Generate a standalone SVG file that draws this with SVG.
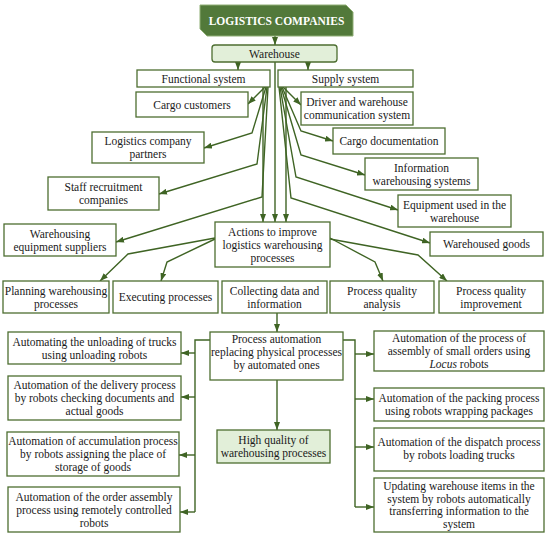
<svg xmlns="http://www.w3.org/2000/svg" width="550" height="537" viewBox="0 0 550 537">
<defs>
<marker id="ah" markerWidth="8" markerHeight="6" refX="8" refY="3" orient="auto" markerUnits="userSpaceOnUse">
<path d="M0,0 L8,3 L0,6 z" fill="#3f6424"/>
</marker>
<style>
.b{fill:#ffffff;stroke:#4d6e30;stroke-width:1.3}
.g{fill:#e2efd9;stroke:#4d6e30;stroke-width:1.3}
.t{font-family:"Liberation Serif","Times New Roman",serif;font-size:11.5px;fill:#1a1a1a;text-anchor:middle}
.w{font-family:"Liberation Serif","Times New Roman",serif;font-size:11.5px;font-weight:bold;fill:#ffffff;text-anchor:middle}
.c{fill:none;stroke:#3f6424;stroke-width:1.4;marker-end:url(#ah)}
.n{fill:none;stroke:#3f6424;stroke-width:1.4}
</style>
</defs>
<rect width="550" height="537" fill="#ffffff"/>
<g id="connectors">
<path class="c" d="M275,36 V45"/>
<path class="c" d="M238,62 V70"/>
<path class="c" d="M308,62 V70"/>
<path class="c" d="M275,62 V222"/>
<path class="c" d="M263,87 V222"/>
<path class="c" d="M286,87 V222"/>
<path class="c" d="M265,87 L248,104"/>
<path class="c" d="M266,87 L252,133 L204,148"/>
<path class="c" d="M267,87 L257,164 L159,194"/>
<path class="c" d="M268,87 L262,197 L116,242"/>
<path class="c" d="M283,87 L301,105"/>
<path class="c" d="M282,87 L301,131 L333,141"/>
<path class="c" d="M281,87 L301,155 L365,175"/>
<path class="c" d="M280,87 L296,177 L398,210"/>
<path class="c" d="M279,87 L291,198 L430,243"/>
<path class="c" d="M215,238 L128,254 L100,281"/>
<path class="c" d="M215,239 L167,262 L161,281"/>
<path class="c" d="M330,238 L375,262 L383,281"/>
<path class="c" d="M330,239 L418,255 L447,281"/>
<path class="c" d="M277,313 V332"/>
<path class="c" d="M277,380 V430"/>
<path class="n" d="M210,340 H195 V512"/>
<path class="c" d="M195,353 H181"/>
<path class="c" d="M195,397 H181"/>
<path class="c" d="M195,455 H179"/>
<path class="c" d="M195,512 H180"/>
<path class="n" d="M343,340 H355 V507"/>
<path class="c" d="M355,354 H374"/>
<path class="c" d="M355,399 H374"/>
<path class="c" d="M355,447 H374"/>
<path class="c" d="M355,507 H374"/>
</g>
<g id="logistics-companies">
<polygon points="200,5 346,5 353,12 353,36 207,36 200,29" fill="#52793a" stroke="#8fae74" stroke-width="1"/>
<text class="w" x="276.5" y="25">LOGISTICS COMPANIES</text>
</g>
<g id="warehouse"><rect class="g" x="212" y="45" width="125" height="17" rx="3"/><text class="t" x="274.5" y="57.5">Warehouse</text></g>
<g id="functional-system"><rect class="b" x="137" y="70" width="133" height="17"/><text class="t" x="203.5" y="82.5">Functional system</text></g>
<g id="supply-system"><rect class="b" x="278" y="70" width="135" height="17"/><text class="t" x="345.5" y="82.5">Supply system</text></g>
<g id="cargo-customers"><rect class="b" x="136" y="92" width="112" height="25"/><text class="t" x="192" y="108.5">Cargo customers</text></g>
<g id="logistics-partners"><rect class="b" x="92" y="132" width="112" height="31"/><text class="t" x="148" y="145">Logistics company</text><text class="t" x="148" y="158">partners</text></g>
<g id="staff-recruitment"><rect class="b" x="48" y="177" width="111" height="33"/><text class="t" x="103.5" y="191">Staff recruitment</text><text class="t" x="103.5" y="204">companies</text></g>
<g id="equipment-suppliers"><rect class="b" x="4" y="224" width="112" height="32"/><text class="t" x="60" y="237.5">Warehousing</text><text class="t" x="60" y="250.5">equipment suppliers</text></g>
<g id="driver-communication"><rect class="b" x="301" y="92" width="112" height="33"/><text class="t" x="357" y="106">Driver and warehouse</text><text class="t" x="357" y="119">communication system</text></g>
<g id="cargo-documentation"><rect class="b" x="333" y="128" width="112" height="26"/><text class="t" x="389" y="145">Cargo documentation</text></g>
<g id="information-systems"><rect class="b" x="365" y="158" width="113" height="32"/><text class="t" x="421.5" y="171.5">Information</text><text class="t" x="421.5" y="184.5">warehousing systems</text></g>
<g id="equipment-used"><rect class="b" x="398" y="195" width="113" height="32"/><text class="t" x="454.5" y="208.5">Equipment used in the</text><text class="t" x="454.5" y="221.5">warehouse</text></g>
<g id="warehoused-goods"><rect class="b" x="430" y="232" width="113" height="24"/><text class="t" x="486.5" y="248">Warehoused goods</text></g>
<g id="actions"><rect class="b" x="215" y="222" width="115" height="45"/><text class="t" x="272.5" y="235.5">Actions to improve</text><text class="t" x="272.5" y="248.5">logistics warehousing</text><text class="t" x="272.5" y="261.5">processes</text></g>
<g id="planning"><rect class="b" x="3" y="281" width="106" height="32"/><text class="t" x="56" y="294.5">Planning warehousing</text><text class="t" x="56" y="307.5">processes</text></g>
<g id="executing"><rect class="b" x="113" y="281" width="105" height="32"/><text class="t" x="165.5" y="301">Executing processes</text></g>
<g id="collecting"><rect class="b" x="222" y="281" width="105" height="32"/><text class="t" x="274.5" y="294.5">Collecting data and</text><text class="t" x="274.5" y="307.5">information</text></g>
<g id="quality-analysis"><rect class="b" x="330" y="281" width="104" height="32"/><text class="t" x="382" y="294.5">Process quality</text><text class="t" x="382" y="307.5">analysis</text></g>
<g id="quality-improvement"><rect class="b" x="439" y="281" width="104" height="32"/><text class="t" x="491" y="294.5">Process quality</text><text class="t" x="491" y="307.5">improvement</text></g>
<g id="process-automation"><rect class="b" x="210" y="332" width="133" height="48"/><text class="t" x="276.5" y="343">Process automation</text><text class="t" x="276.5" y="356">replacing physical processes</text><text class="t" x="276.5" y="369">by automated ones</text></g>
<g id="high-quality"><rect class="g" x="217" y="430" width="113" height="33"/><text class="t" x="273.5" y="444">High quality of</text><text class="t" x="273.5" y="457">warehousing processes</text></g>
<g id="auto-unloading"><rect class="b" x="8" y="332" width="173" height="32"/><text class="t" x="94.5" y="345.5">Automating the unloading of trucks</text><text class="t" x="94.5" y="358.5">using unloading robots</text></g>
<g id="auto-delivery"><rect class="b" x="8" y="376" width="173" height="44"/><text class="t" x="94.5" y="389">Automation of the delivery process</text><text class="t" x="94.5" y="402">by robots checking documents and</text><text class="t" x="94.5" y="415">actual goods</text></g>
<g id="auto-accumulation"><rect class="b" x="7" y="432" width="172" height="44"/><text class="t" x="93" y="445">Automation of accumulation process</text><text class="t" x="93" y="458">by robots assigning the place of</text><text class="t" x="93" y="471">storage of goods</text></g>
<g id="auto-order-assembly"><rect class="b" x="8" y="487" width="172" height="45"/><text class="t" x="94" y="500.5">Automation of the order assembly</text><text class="t" x="94" y="513.5">process using remotely controlled</text><text class="t" x="94" y="526.5">robots</text></g>
<g id="auto-small-orders"><rect class="b" x="374" y="331" width="170" height="40"/><text class="t" x="459" y="342">Automation of the process of</text><text class="t" x="459" y="355">assembly of small orders using</text><text class="t" x="459" y="368"><tspan font-style="italic">Locus</tspan> robots</text></g>
<g id="auto-packing"><rect class="b" x="374" y="388" width="170" height="33"/><text class="t" x="459" y="402">Automation of the packing process</text><text class="t" x="459" y="415">using robots wrapping packages</text></g>
<g id="auto-dispatch"><rect class="b" x="374" y="428" width="170" height="43"/><text class="t" x="459" y="446">Automation of the dispatch process</text><text class="t" x="459" y="459">by robots loading trucks</text></g>
<g id="updating-items"><rect class="b" x="374" y="478" width="170" height="54"/><text class="t" x="459" y="490">Updating warehouse items in the</text><text class="t" x="459" y="502.5">system by robots automatically</text><text class="t" x="459" y="515">transferring information to the</text><text class="t" x="459" y="527.5">system</text></g>
</svg>
